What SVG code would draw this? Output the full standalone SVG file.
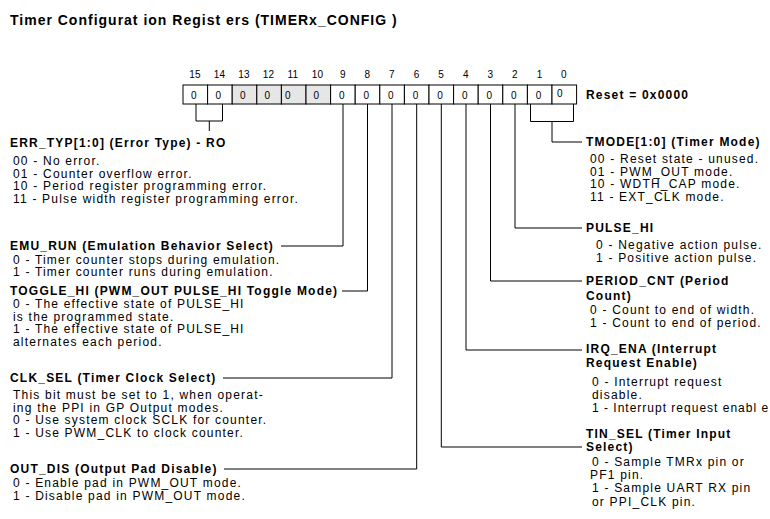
<svg xmlns="http://www.w3.org/2000/svg" width="770" height="519" viewBox="0 0 770 519">
<style>
text{font-family:"Liberation Sans",Arial,Helvetica,sans-serif;fill:#000}
.t{font-size:12px;letter-spacing:1.2px}
.b{font-size:12px;font-weight:bold;letter-spacing:1.2px}
.ttl{font-size:14px;font-weight:bold;letter-spacing:1px}
.n{font-size:10px;letter-spacing:0.3px;text-anchor:middle}
.c{fill:#fff;stroke:#000;stroke-width:1}
.g{fill:#e6e6e6;stroke:#000;stroke-width:1}
.w{fill:none;stroke:#000;stroke-width:1}
</style>
<rect width="770" height="519" fill="#fff"/>
<text class="ttl" x="10" y="25">Timer Configurat ion Regist ers (TIMERx_CONFIG )</text>

<g id="register">
<g id="bitnums">
<text class="n" x="195" y="78">15</text><text class="n" x="219.5" y="78">14</text><text class="n" x="244" y="78">13</text><text class="n" x="268.5" y="78">12</text><text class="n" x="293" y="78">11</text><text class="n" x="317.5" y="78">10</text><text class="n" x="343" y="78">9</text><text class="n" x="367.5" y="78">8</text><text class="n" x="392" y="78">7</text><text class="n" x="416.7" y="78">6</text><text class="n" x="441.3" y="78">5</text><text class="n" x="466" y="78">4</text><text class="n" x="490.5" y="78">3</text><text class="n" x="515" y="78">2</text><text class="n" x="539.7" y="78">1</text><text class="n" x="564" y="78">0</text>
</g>
<rect class="c" x="183" y="85" width="24.6" height="19"/>
<rect class="c" x="207.6" y="85" width="24.6" height="19"/>
<rect class="g" x="232.2" y="85" width="24.6" height="19"/>
<rect class="g" x="256.8" y="85" width="24.6" height="19"/>
<rect class="g" x="281.4" y="85" width="24.6" height="19"/>
<rect class="g" x="306" y="85" width="24.6" height="19"/>
<rect class="c" x="330.6" y="85" width="24.6" height="19"/>
<rect class="c" x="355.2" y="85" width="24.6" height="19"/>
<rect class="c" x="379.8" y="85" width="24.6" height="19"/>
<rect class="c" x="404.4" y="85" width="24.6" height="19"/>
<rect class="c" x="429" y="85" width="24.6" height="19"/>
<rect class="c" x="453.6" y="85" width="24.6" height="19"/>
<rect class="c" x="478.2" y="85" width="24.6" height="19"/>
<rect class="c" x="502.8" y="85" width="24.6" height="19"/>
<rect class="c" x="527.4" y="85" width="24.6" height="19"/>
<rect class="c" x="552" y="85" width="24.6" height="19"/>
<g id="values">
<text class="n" x="194" y="98.5">0</text><text class="n" x="218.5" y="98.5">0</text><text class="n" x="243" y="98.5">0</text><text class="n" x="267.5" y="98.5">0</text><text class="n" x="288" y="98.5">0</text><text class="n" x="316.5" y="98.5">0</text><text class="n" x="342" y="98.5">0</text><text class="n" x="366.5" y="98.5">0</text><text class="n" x="391" y="98.5">0</text><text class="n" x="415.7" y="98.5">0</text><text class="n" x="440.3" y="98.5">0</text><text class="n" x="465" y="98.5">0</text><text class="n" x="489.5" y="98.5">0</text><text class="n" x="514" y="98.5">0</text><text class="n" x="538.7" y="98.5">0</text><text class="n" x="560" y="97">0</text>
</g>
<text class="b" x="586" y="98.5">Reset = 0x0000</text>
</g>

<g id="connectors">
<path class="w" d="M196,104V121H222.5V104M209.3,121V131"/>
<path class="w" d="M343,104V246H281"/>
<path class="w" d="M367.5,104V291H342"/>
<path class="w" d="M392,104V378H223"/>
<path class="w" d="M416.7,104V469H224"/>
<path class="w" d="M441.3,104V447H582"/>
<path class="w" d="M466,104V350H582"/>
<path class="w" d="M490.5,104V281H582"/>
<path class="w" d="M515,104V228H582"/>
<path class="w" d="M530.5,104V121.5H573.5V104M552,121.5V142H582"/>
</g>

<g id="err_typ">
<text class="b" x="10" y="147">ERR_TYP[1:0]  (Error Type) - RO</text>
<text class="t" x="13" y="165">00 - No error.</text>
<text class="t" x="13" y="177.5">01 - Counter overflow error.</text>
<text class="t" x="13" y="190">10 - Period register programming error.</text>
<text class="t" x="13" y="202.5">11 - Pulse width register programming error.</text>
</g>
<g id="emu_run">
<text class="b" x="10" y="250">EMU_RUN (Emulation Behavior Select)</text>
<text class="t" x="13" y="263.5">0 - Timer counter stops during emulation.</text>
<text class="t" x="13" y="276">1 - Timer counter runs during emulation.</text>
</g>
<g id="toggle_hi">
<text class="b" x="10" y="294.5">TOGGLE_HI (PWM_OUT PULSE_HI Toggle Mode)</text>
<text class="t" x="13" y="308">0 - The effective state of PULSE_HI</text>
<text class="t" x="13" y="320.5">is the programmed state.</text>
<text class="t" x="13" y="333">1 - The effective state of PULSE_HI</text>
<text class="t" x="13" y="345.5">alternates each period.</text>
</g>
<g id="clk_sel">
<text class="b" x="10" y="381.5">CLK_SEL (Timer Clock Select)</text>
<text class="t" x="13" y="399">This bit must be set to 1, when operat-</text>
<text class="t" x="13" y="411.5">ing the PPI in GP Output modes.</text>
<text class="t" x="13" y="424">0 - Use system clock SCLK for counter.</text>
<text class="t" x="13" y="436.5">1 - Use PWM_CLK to clock counter.</text>
</g>
<g id="out_dis">
<text class="b" x="10" y="472.5">OUT_DIS (Output Pad Disable)</text>
<text class="t" x="13" y="486.5">0 - Enable pad in PWM_OUT mode.</text>
<text class="t" x="13" y="499.5">1 - Disable pad in PWM_OUT mode.</text>
</g>

<g id="tmode">
<text class="b" x="586" y="145.5">TMODE[1:0] (Timer Mode)</text>
<text class="t" x="590" y="163">00 - Reset state - unused.</text>
<text class="t" x="590" y="175.5">01 - PWM_OUT mode.</text>
<text class="t" x="590" y="188">10 - WDTH_CAP mode.</text>
<text class="t" x="590" y="200.5">11 - EXT_CLK mode.</text>
</g>
<g id="pulse_hi">
<text class="b" x="586" y="231.5">PULSE_HI</text>
<text class="t" x="596" y="249">0 - Negative action pulse.</text>
<text class="t" x="596" y="261.5">1 - Positive action pulse.</text>
</g>
<g id="period_cnt">
<text class="b" x="586" y="285">PERIOD_CNT (Period</text>
<text class="b" x="586" y="299.5">Count)</text>
<text class="t" x="590" y="314">0 - Count to end of width.</text>
<text class="t" x="590" y="327">1 - Count to end of period.</text>
</g>
<g id="irq_ena">
<text class="b" x="586" y="353">IRQ_ENA (Interrupt</text>
<text class="b" x="586" y="367">Request Enable)</text>
<text class="t" x="592" y="385.5">0 - Interrupt request</text>
<text class="t" x="592" y="398.5">disable.</text>
<text class="t" x="592" y="412" style="letter-spacing:1px">1 - Interrupt request enabl e</text>
</g>
<g id="tin_sel">
<text class="b" x="586" y="437.5">TIN_SEL (Timer Input</text>
<text class="b" x="586" y="451">Select)</text>
<text class="t" x="592" y="465.5">0 - Sample TMRx pin or</text>
<text class="t" x="590" y="478.5">PF1 pin.</text>
<text class="t" x="592" y="492">1 - Sample UART RX pin</text>
<text class="t" x="592" y="506">or PPI_CLK pin.</text>
</g>
</svg>
